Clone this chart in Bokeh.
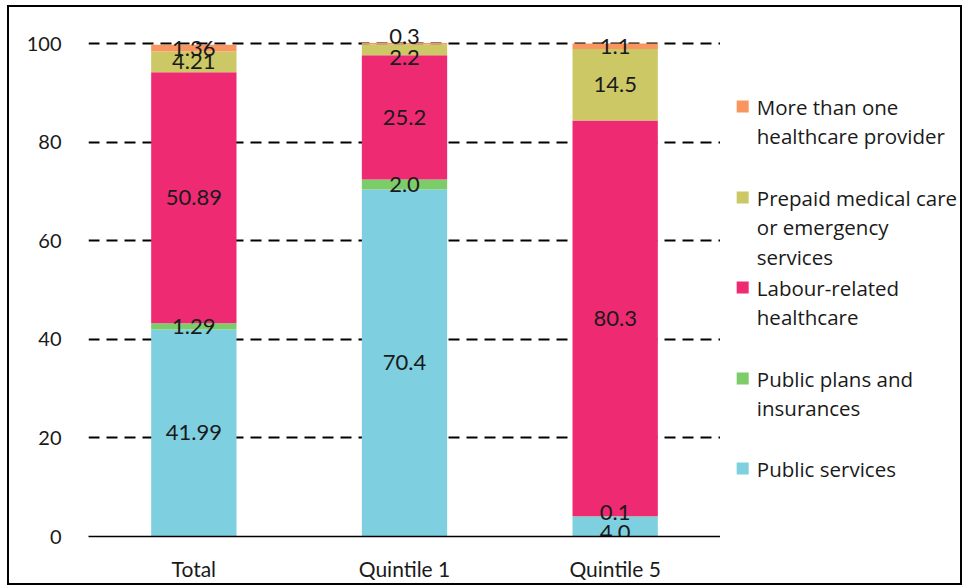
import numpy as np
from bokeh.plotting import figure
from bokeh.layouts import row
from bokeh.models import ColumnDataSource, Range1d, FactorRange, FixedTicker
from bokeh.core.properties import value
from bokeh.embed import file_html
from bokeh.resources import INLINE

# ---- data -------------------------------------------------------------
groups = ["Total", "Quintile 1", "Quintile 5"]

series_names = [
    "Public services",
    "Public plans and insurances",
    "Labour-related healthcare",
    "Prepaid medical care or emergency services",
    "More than one healthcare provider",
]
public_services = [41.99, 70.4, 4.0]
public_plans = [1.29, 2.0, 0.1]
labour_related = [50.89, 25.2, 80.3]
prepaid_care = [4.21, 2.2, 14.5]
more_than_one = [1.36, 0.3, 1.1]

y_ticks = [0, 20, 40, 60, 80, 100]

# legend entries, top to bottom, wrapped into lines
legend_lines = [
    ["More than one", "healthcare provider"],
    ["Prepaid medical care", "or emergency", "services"],
    ["Labour-related", "healthcare"],
    ["Public plans and", "insurances"],
    ["Public services"],
]

# ---- styling ----------------------------------------------------------
colors = ["#7ECFE0", "#7DCC6A", "#EE2A73", "#CDC866", "#F9955F"]
legend_colors = [colors[4], colors[3], colors[2], colors[1], colors[0]]
text_color = "#1a1a1a"

# small pixel nudges for labels of thin segments (series index, group index)
label_nudge = {(4, 1): -7, (3, 1): 8, (1, 2): -4, (0, 2): 6}

# ---- main chart -------------------------------------------------------
p = figure(
    x_range=FactorRange(*groups, range_padding=0),
    y_range=Range1d(0, 104.06),
    width=713, height=580,
    output_backend="svg", toolbar_location=None,
    min_border_left=79, min_border_right=2,
    min_border_top=16, min_border_bottom=51,
)
p.styles = {"border-left": "2px solid #000", "border-top": "2px solid #000",
            "border-bottom": "2px solid #000"}
p.outline_line_color = None

all_series = [public_services, public_plans, labour_related, prepaid_care, more_than_one]
bottom = np.zeros(len(groups))
lx, ly, lt, loff = [], [], [], []
for si, vals in enumerate(all_series):
    vals = np.array(vals, dtype=float)
    top = bottom + vals
    src = ColumnDataSource(dict(x=groups, bottom=bottom.copy(), top=top))
    p.vbar(x="x", bottom="bottom", top="top", width=0.405, source=src,
           fill_color=colors[si], line_color=None)
    for gi, g in enumerate(groups):
        lx.append(g)
        ly.append(bottom[gi] + vals[gi] / 2)
        lt.append(f"{vals[gi]:.2f}" if g == "Total" else f"{vals[gi]:.1f}")
        loff.append(label_nudge.get((si, gi), 0))
    bottom = top

lab_src = ColumnDataSource(dict(x=lx, y=ly, text=lt, off=loff))
p.text(x="x", y="y", text="text", y_offset="off", source=lab_src,
       text_align="center", text_baseline="middle",
       text_font=value("Lato"), text_font_size="22px", text_color=text_color)

p.yaxis.ticker = FixedTicker(ticks=y_ticks)
p.yaxis.axis_line_color = None
p.yaxis.major_tick_line_color = None
p.yaxis.minor_tick_line_color = None
p.yaxis.major_label_standoff = 21
p.yaxis.major_label_text_font = "Lato"
p.yaxis.major_label_text_font_size = "20px"
p.yaxis.major_label_text_color = text_color

p.xaxis.axis_line_color = "black"
p.xaxis.axis_line_width = 1.5
p.xaxis.major_tick_line_color = None
p.xaxis.minor_tick_line_color = None
p.xaxis.major_label_standoff = 13
p.xaxis.major_label_text_font = "Lato"
p.xaxis.major_label_text_font_size = "21px"
p.xaxis.major_label_text_color = text_color

p.xgrid.grid_line_color = None
p.ygrid.ticker = FixedTicker(ticks=y_ticks[1:])
p.ygrid.grid_line_color = "black"
p.ygrid.grid_line_width = 2
p.ygrid.grid_line_dash = "11 7"

# ---- legend panel (x in pixels from panel left, y in page pixels) -----
leg_w = 240
leg = figure(
    x_range=Range1d(0, leg_w), y_range=Range1d(536, 23),
    width=leg_w + 2, height=580,
    output_backend="svg", toolbar_location=None,
    x_axis_location=None, y_axis_location=None,
    min_border_left=0, min_border_right=0, min_border_top=0, min_border_bottom=0,
)
leg.styles = {"border-right": "2px solid #000", "border-top": "2px solid #000",
              "border-bottom": "2px solid #000"}
leg.outline_line_color = None
leg.grid.visible = False

entry_tops = [106, 197, 287, 378, 468]
line_gap = 29.5
sq_x, sq_y, sq_c = [], [], []
tx, ty, tt = [], [], []
for ei, lines in enumerate(legend_lines):
    sq_x.append(22)
    sq_y.append(entry_tops[ei])
    sq_c.append(legend_colors[ei])
    for li, line in enumerate(lines):
        tx.append(36)
        ty.append(entry_tops[ei] + li * line_gap)
        tt.append(line)

leg.rect(x=sq_x, y=sq_y, width=12, height=12, width_units="screen",
         height_units="screen", fill_color=sq_c, line_color=None)
leg.text(x=tx, y=ty, text=tt, text_baseline="middle", text_align="left",
         text_font=value("Open Sans"), text_font_size="20.5px", text_color=text_color)

layout = row(p, leg)
layout.margin = (5, 0, 0, 7)

open("out.html", "w").write(file_html(layout, INLINE))
